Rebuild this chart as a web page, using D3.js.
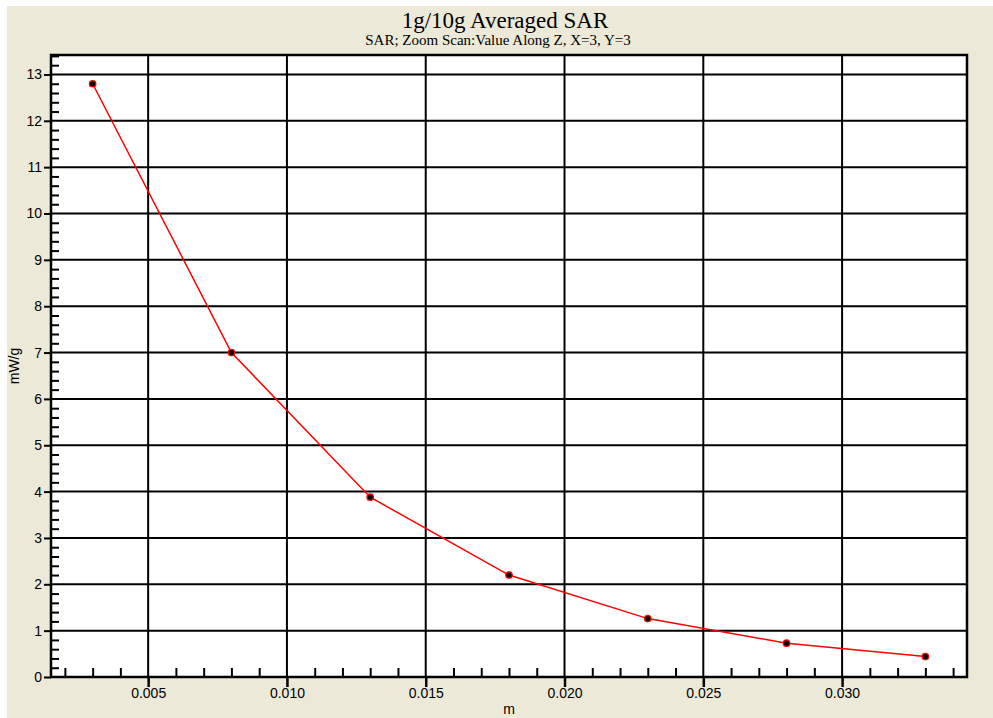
<!DOCTYPE html>
<html>
<head>
<meta charset="utf-8">
<script src="https://cdn.jsdelivr.net/npm/d3@7"></script>
<style>
  body { margin: 0; background: #ffffff; }
  .tick text { font-family: "Liberation Sans", Arial, sans-serif; font-size: 14px; fill: #000; }
</style>
</head>
<body>
<div id="chart"></div>
<script>
// Data
const depth = [0.003, 0.008, 0.013, 0.018, 0.023, 0.028, 0.033];
const sar = [12.8, 7.0, 3.88, 2.2, 1.26, 0.73, 0.44];
const xTicks = [0.005, 0.010, 0.015, 0.020, 0.025, 0.030];
const yTicks = [0, 1, 2, 3, 4, 5, 6, 7, 8, 9, 10, 11, 12, 13];

const svgWidth = 993;
const svgHeight = 718;

// Plot frame
const margin = { top: 55, left: 51, right: 26, bottom: 41 };
const width = svgWidth - margin.left - margin.right;
const height = svgHeight - margin.top - margin.bottom;

const svg = d3.select("#chart")
  .append("svg")
  .attr("width", svgWidth)
  .attr("height", svgHeight);

// Beige panel
svg.append("rect")
  .attr("x", 7)
  .attr("y", 6)
  .attr("width", svgWidth - 7)
  .attr("height", svgHeight - 6)
  .attr("fill", "#ece9d8");

// Titles
svg.append("text")
  .attr("x", 505)
  .attr("y", 28)
  .attr("text-anchor", "middle")
  .attr("font-family", "'Liberation Serif', 'Times New Roman', serif")
  .attr("font-size", 23)
  .text("1g/10g Averaged SAR");

svg.append("text")
  .attr("x", 498)
  .attr("y", 45)
  .attr("text-anchor", "middle")
  .attr("font-family", "'Liberation Serif', 'Times New Roman', serif")
  .attr("font-size", 15)
  .text("SAR; Zoom Scan:Value Along Z, X=3, Y=3");

const chartGroup = svg.append("g")
  .attr("transform", `translate(${margin.left}, ${margin.top})`);

chartGroup.append("rect")
  .attr("width", width)
  .attr("height", height)
  .attr("fill", "#ffffff");

// Scales
const xScale = d3.scaleLinear()
  .domain([0.0015, 0.0345])
  .range([0, width]);

const yScale = d3.scaleLinear()
  .domain([0, 13.42])
  .range([height, 0]);

// Grid lines
chartGroup.append("g")
  .selectAll("line")
  .data(xTicks)
  .enter()
  .append("line")
  .attr("x1", d => xScale(d))
  .attr("x2", d => xScale(d))
  .attr("y1", 0)
  .attr("y2", height)
  .attr("stroke", "#000")
  .attr("stroke-width", 2);

chartGroup.append("g")
  .selectAll("line")
  .data(yTicks.filter(d => d > 0))
  .enter()
  .append("line")
  .attr("x1", 0)
  .attr("x2", width)
  .attr("y1", d => yScale(d))
  .attr("y2", d => yScale(d))
  .attr("stroke", "#000")
  .attr("stroke-width", 2);

// Minor ticks (inside the frame)
const xMinor = d3.range(2, 35).map(d => d / 1000).filter(d => d % 0.005 > 1e-9 && 0.005 - (d % 0.005) > 1e-9);
const yMinor = d3.range(1, 68).map(d => d / 5).filter(d => Math.abs(d - Math.round(d)) > 1e-9);

chartGroup.append("g")
  .attr("transform", `translate(0, ${height})`)
  .call(d3.axisTop(xScale).tickValues(xMinor).tickSize(9).tickFormat(""))
  .call(g => g.select(".domain").remove())
  .selectAll("line").attr("stroke-width", 2);

chartGroup.append("g")
  .call(d3.axisRight(yScale).tickValues(yMinor).tickSize(8).tickFormat(""))
  .call(g => g.select(".domain").remove())
  .selectAll("line").attr("stroke-width", 2);

// Major axes
chartGroup.append("g")
  .attr("transform", `translate(0, ${height})`)
  .call(d3.axisBottom(xScale).tickValues(xTicks).tickSize(10).tickPadding(1).tickFormat(d3.format(".3f")))
  .call(g => g.select(".domain").remove())
  .selectAll("line").attr("stroke-width", 2.5);

chartGroup.append("g")
  .call(d3.axisLeft(yScale).tickValues(yTicks).tickSize(7).tickPadding(2))
  .call(g => g.select(".domain").remove())
  .selectAll("line").attr("stroke-width", 2);

// Frame
chartGroup.append("rect")
  .attr("width", width)
  .attr("height", height)
  .attr("fill", "none")
  .attr("stroke", "#000")
  .attr("stroke-width", 2.5);

// Axis labels
svg.append("text")
  .attr("x", margin.left + width / 2)
  .attr("y", 714)
  .attr("text-anchor", "middle")
  .attr("font-family", "'Liberation Sans', Arial, sans-serif")
  .attr("font-size", 14)
  .text("m");

svg.append("text")
  .attr("transform", `translate(19, ${margin.top + height / 2}) rotate(-90)`)
  .attr("text-anchor", "middle")
  .attr("font-family", "'Liberation Sans', Arial, sans-serif")
  .attr("font-size", 14)
  .text("mW/g");

// Series
const points = depth.map((d, i) => ({ x: d, y: sar[i] }));

const line = d3.line()
  .x(d => xScale(d.x))
  .y(d => yScale(d.y));

chartGroup.append("path")
  .datum(points)
  .attr("d", line)
  .attr("fill", "none")
  .attr("stroke", "#ff0000")
  .attr("stroke-width", 1.5);

chartGroup.selectAll("circle.marker")
  .data(points)
  .enter()
  .append("circle")
  .attr("class", "marker")
  .attr("cx", d => xScale(d.x))
  .attr("cy", d => yScale(d.y))
  .attr("r", 3.2)
  .attr("fill", "#000")
  .attr("stroke", "#ff0000")
  .attr("stroke-width", 1.3);
</script>
</body>
</html>
